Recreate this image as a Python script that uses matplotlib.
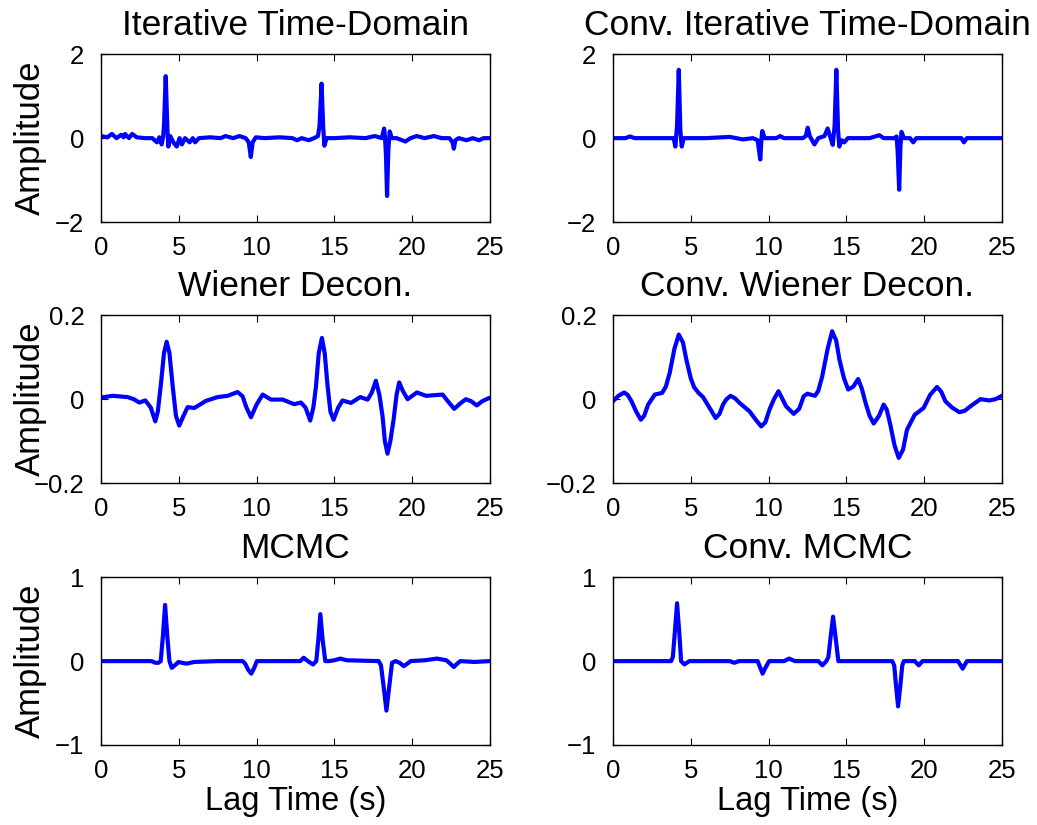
import numpy as np
import matplotlib.pyplot as plt

plt.rcParams['font.family'] = ['Liberation Sans', 'DejaVu Sans']

# traces: (lag time s, amplitude)
itd_t = [0.0, 0.4, 0.7, 1.0, 1.3, 1.45, 1.55, 1.8, 2.0, 2.3, 2.8, 3.3, 3.6, 3.75, 3.9, 4.0,
         4.05, 4.16, 4.27, 4.33, 4.45, 4.65, 4.87, 5.05, 5.2, 5.4, 5.7, 5.9, 6.05, 6.3,
         7.0, 7.7, 8.0, 8.5, 8.9, 9.3, 9.5, 9.63, 9.75, 9.95, 10.5, 11.5, 12.3, 12.6,
         12.9, 13.35, 13.7, 13.95, 14.05, 14.18, 14.28, 14.36, 14.5, 15.0, 16.0, 17.0,
         17.6, 18.05, 18.2, 18.26, 18.32, 18.39, 18.47, 18.56, 18.7, 19.0, 19.57, 19.9,
         20.3, 20.8, 21.4, 21.9, 22.4, 22.6, 22.68, 22.78, 23.0, 23.5, 23.9, 24.3, 24.6, 25.0]
itd_a = [0.05, 0.02, 0.1, 0.0, 0.08, 0.02, 0.1, 0.0, 0.1, 0.02, 0.0, 0.0, -0.1, 0.02, -0.15, 0.05,
         0.3, 1.48, 0.2, -0.2, 0.05, -0.1, -0.2, 0.0, -0.15, 0.0, -0.1, 0.0, -0.1, 0.0,
         0.02, 0.0, 0.05, 0.0, 0.05, 0.0, -0.1, -0.45, -0.1, 0.02, 0.0, 0.02, 0.0, -0.05,
         0.0, -0.05, 0.0, 0.05, 0.3, 1.3, 0.3, -0.18, 0.0, 0.0, 0.02, 0.0,
         0.05, 0.0, 0.23, 0.0, -0.4, -1.38, -0.3, 0.16, 0.0, 0.0, -0.08, 0.0,
         0.05, 0.0, 0.05, 0.0, 0.0, -0.1, -0.25, -0.05, 0.0, -0.05, 0.0, -0.05, 0.0, 0.0]

citd_t = [0.0, 0.8, 1.09, 1.4, 3.0, 3.9, 4.01, 4.12, 4.23, 4.33, 4.42, 4.55, 6.0, 7.5, 8.35,
          9.0, 9.3, 9.47, 9.55, 9.6, 9.75, 10.5, 10.75, 11.0, 12.2, 12.4, 12.52, 12.65,
          12.95, 13.2, 13.6, 13.8, 13.95, 14.13, 14.25, 14.36, 14.47, 14.55, 14.7, 14.87,
          15.1, 16.5, 17.12, 17.4, 18.1, 18.23, 18.3, 18.4, 18.48, 18.55, 18.7, 19.1, 19.3,
          19.5, 22.2, 22.4, 22.56, 22.75, 25.0]
citd_a = [0.0, 0.0, 0.04, 0.0, 0.0, 0.0, -0.2, 0.3, 1.63, 0.2, -0.2, 0.0, 0.0, 0.03, -0.03,
          0.0, -0.05, -0.51, 0.0, 0.17, 0.0, 0.0, 0.05, 0.0, 0.0, 0.05, 0.25, 0.05,
          -0.15, 0.0, 0.05, 0.23, 0.05, -0.16, 0.3, 1.63, 0.2, -0.2, -0.05, -0.1,
          0.0, 0.0, 0.07, 0.0, 0.0, 0.04, -0.3, -1.23, -0.2, 0.15, 0.0, 0.0, -0.1,
          0.0, 0.0, 0.0, -0.1, 0.0, 0.0]

wd_t = [0.0, 0.75, 1.71, 2.1, 2.46, 2.85, 3.2, 3.49, 3.65, 3.86, 4.05, 4.22, 4.4, 4.61, 4.82,
        5.03, 5.3, 5.57, 6.0, 6.75, 7.5, 8.14, 8.78, 9.1, 9.35, 9.64, 10.0, 10.39, 10.93,
        11.68, 12.42, 12.85, 13.15, 13.45, 13.65, 13.82, 14.0, 14.2, 14.38, 14.57, 14.75,
        14.95, 15.25, 15.53, 16.07, 16.66, 17.14, 17.4, 17.67, 17.9, 18.1, 18.25, 18.42,
        18.6, 18.81, 19.0, 19.17, 19.4, 19.71, 20.31, 20.89, 21.96, 22.3, 22.71, 23.1,
        23.46, 23.8, 24.16, 24.5, 24.96, 25.0]
wd_a = [0.004, 0.008, 0.005, 0.0, -0.008, -0.003, -0.02, -0.053, -0.03, 0.039, 0.11, 0.137, 0.11,
        0.03, -0.04, -0.063, -0.04, -0.019, -0.021, -0.004, 0.005, 0.008, 0.017, 0.007, -0.02,
        -0.043, -0.013, 0.011, -0.001, -0.001, -0.012, -0.008, -0.02, -0.051, -0.02, 0.03,
        0.11, 0.146, 0.11, 0.03, -0.03, -0.049, -0.02, -0.003, -0.009, 0.005, -0.001, 0.015,
        0.044, 0.01, -0.041, -0.1, -0.13, -0.1, -0.049, 0.01, 0.04, 0.02, 0.0, 0.016,
        0.008, 0.011, -0.005, -0.023, -0.01, 0.0, -0.005, -0.015, -0.005, 0.003, 0.003]

cwd_t = [0.0, 0.35, 0.72, 0.95, 1.19, 1.5, 1.79, 2.0, 2.26, 2.69, 3.16, 3.4, 3.65, 3.95, 4.23,
         4.5, 4.72, 5.0, 5.21, 5.5, 5.79, 6.2, 6.6, 6.85, 7.07, 7.3, 7.56, 7.85, 8.14, 8.78,
         9.2, 9.53, 9.8, 10.06, 10.35, 10.64, 10.9, 11.13, 11.62, 11.97, 12.26, 12.5, 12.99,
         13.2, 13.45, 13.8, 14.09, 14.35, 14.56, 14.85, 15.12, 15.45, 15.76, 16.0, 16.24,
         16.5, 16.76, 17.1, 17.4, 17.6, 17.83, 18.1, 18.37, 18.65, 18.9, 19.4, 19.97, 20.4,
         20.83, 21.1, 21.37, 21.8, 22.27, 22.6, 22.98, 23.62, 24.2, 24.6, 25.0]
cwd_a = [-0.005, 0.008, 0.016, 0.01, -0.005, -0.03, -0.049, -0.04, -0.013, 0.011, 0.015, 0.03,
         0.063, 0.12, 0.154, 0.135, 0.094, 0.05, 0.029, 0.015, 0.005, -0.02, -0.045, -0.035,
         -0.013, 0.0, 0.008, 0.002, -0.009, -0.029, -0.05, -0.065, -0.055, -0.025, 0.0,
         0.019, 0.0, -0.017, -0.035, -0.023, 0.007, 0.013, 0.008, 0.02, 0.054, 0.12, 0.162,
         0.14, 0.094, 0.05, 0.023, 0.03, 0.048, 0.025, -0.009, -0.04, -0.058, -0.04, -0.013,
         -0.025, -0.061, -0.11, -0.14, -0.12, -0.073, -0.037, -0.021, 0.011, 0.029, 0.018,
         -0.005, -0.02, -0.031, -0.028, -0.017, 0.0, -0.003, 0.0, 0.008]

mc_t = [0.0, 3.26, 3.48, 3.7, 3.84, 3.98, 4.12, 4.26, 4.4, 4.55, 4.75, 4.98, 5.2, 5.5, 6.0,
        7.5, 9.1, 9.27, 9.45, 9.66, 9.85, 10.02, 12.8, 13.03, 13.3, 13.63, 13.84, 13.97,
        14.1, 14.25, 14.42, 14.64, 15.0, 15.39, 15.8, 17.85, 18.0, 18.2, 18.35, 18.5, 18.71,
        18.93, 19.2, 19.46, 19.7, 19.9, 20.8, 21.6, 22.2, 22.45, 22.68, 22.9, 23.1, 24.0, 25.0]
mc_a = [0.0, 0.0, -0.02, -0.02, 0.0, 0.3, 0.67, 0.3, 0.0, -0.08, -0.05, -0.01, -0.02, -0.03,
        -0.01, 0.0, 0.0, -0.03, -0.1, -0.15, -0.08, 0.0, 0.0, 0.04, 0.0, -0.04, 0.0, 0.25,
        0.56, 0.25, 0.0, 0.0, 0.01, 0.03, 0.01, 0.0, -0.05, -0.35, -0.59, -0.35, -0.02,
        0.0, -0.02, -0.06, -0.03, 0.0, 0.01, 0.03, 0.01, -0.03, -0.07, -0.03, 0.0, -0.01, 0.0]

cmc_t = [0.0, 3.74, 3.85, 3.98, 4.12, 4.26, 4.38, 4.59, 4.91, 7.5, 7.8, 8.1, 9.3, 9.47, 9.62,
         9.8, 10.04, 11.0, 11.32, 11.7, 13.2, 13.46, 13.72, 13.85, 14.0, 14.15, 14.3, 14.49,
         17.95, 18.08, 18.2, 18.33, 18.47, 18.6, 18.7, 19.4, 19.66, 19.9, 22.18, 22.35,
         22.48, 22.6, 22.76, 25.0]
cmc_a = [0.0, 0.0, 0.05, 0.35, 0.69, 0.35, 0.0, -0.04, 0.0, 0.0, -0.02, 0.0, 0.0, -0.08, -0.15,
         -0.08, 0.0, 0.0, 0.03, 0.0, 0.0, -0.05, 0.0, 0.05, 0.3, 0.53, 0.3, 0.0,
         0.0, -0.05, -0.3, -0.54, -0.3, -0.05, 0.0, 0.0, -0.05, 0.0, 0.0, -0.05,
         -0.09, -0.05, 0.0, 0.0]

titles = ['Iterative Time-Domain', 'Conv. Iterative Time-Domain',
          'Wiener Decon.', 'Conv. Wiener Decon.', 'MCMC', 'Conv. MCMC']
traces = [(itd_t, itd_a), (citd_t, citd_a), (wd_t, wd_a),
          (cwd_t, cwd_a), (mc_t, mc_a), (cmc_t, cmc_a)]
ylims = [2, 2, 0.2, 0.2, 1, 1]
xticks = [0, 5, 10, 15, 20, 25]

fig = plt.figure(figsize=(10.37, 8.25), dpi=100)
lefts = [0.0974, 0.5911]
bottoms = [0.7309, 0.4145, 0.0970]
width = 0.375
height = 0.2033

for i in range(6):
    row, col = i // 2, i % 2
    ax = fig.add_axes([lefts[col], bottoms[row], width, height])
    t, a = traces[i]
    ax.plot(t, a, color='#0000ff', lw=3.0, solid_joinstyle='round')
    ax.set_xlim(0, 25)
    ax.set_ylim(-ylims[i], ylims[i])
    ax.set_xticks(xticks)
    ax.set_yticks([-ylims[i], 0, ylims[i]])
    ax.set_yticklabels(['\u2212%g' % ylims[i], '0', '%g' % ylims[i]])
    ax.tick_params(direction='in', top=True, right=True, labelsize=18.5,
                   length=5, width=0.8)
    ax.tick_params(axis='x', pad=10)
    ax.tick_params(axis='y', pad=12)
    for s in ax.spines.values():
        s.set_linewidth(1.0)
    ax.set_title(titles[i], fontsize=25.5, pad=14)
    if col == 0:
        ax.set_ylabel('Amplitude', fontsize=25)
        ax.yaxis.set_label_coords(-0.14, 0.5)
    if row == 2:
        ax.set_xlabel('Lag Time (s)', fontsize=23.5, labelpad=2)

fig.savefig('out.png', dpi=100)
